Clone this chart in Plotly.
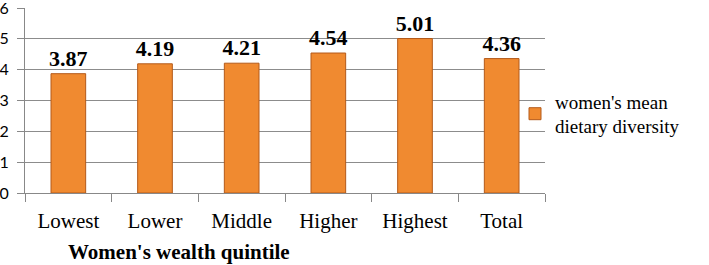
import plotly.graph_objects as go

categories = ["Lowest", "Lower", "Middle", "Higher", "Highest", "Total"]
values = [3.87, 4.19, 4.21, 4.54, 5.01, 4.36]
labels = ["3.87", "4.19", "4.21", "4.54", "5.01", "4.36"]
series_name = "women's mean<br>dietary diversity"
y_ticks = [0, 1, 2, 3, 4, 5, 6]

W, H = 709, 265
ml, mr, mt, mb = 25, 164, 8, 72
pw, ph = W - ml - mr, H - mt - mb

fig = go.Figure()
fig.add_trace(go.Bar(
    x=categories, y=values, name=series_name,
    text=labels, textposition="outside", cliponaxis=False,
    textfont=dict(family="Liberation Serif", size=22, color="black", weight="bold"),
    marker=dict(color="#F08A30", line=dict(color="#B45A1A", width=1)),
    showlegend=True,
))

fig.update_layout(
    width=W, height=H,
    margin=dict(l=ml, r=mr, t=mt, b=mb, autoexpand=False),
    paper_bgcolor="white", plot_bgcolor="white",
    font=dict(family="Liberation Serif, serif", color="black"),
    bargap=0.6,
    uniformtext=dict(minsize=22, mode="show"),
    showlegend=True,
    legend=dict(
        x=(515 - ml) / pw, xanchor="left",
        y=(mt + ph - 114) / ph, yanchor="middle",
        font=dict(family="Liberation Serif, serif", size=19, color="black"),
        bgcolor="rgba(0,0,0,0)", borderwidth=0,
    ),
    xaxis=dict(
        type="category", automargin=False,
        tickson="boundaries",
        ticks="outside", ticklen=8, tickcolor="#888888",
        showline=True, linecolor="#888888", linewidth=1,
        showgrid=False,
        tickfont=dict(family="Liberation Serif", size=21, color="black"),
        ticklabelstandoff=9,
    ),
    yaxis=dict(
        range=[0, 6], tickvals=y_ticks, automargin=False,
        ticks="outside", ticklen=7, tickcolor="#888888",
        showline=True, linecolor="#888888", linewidth=1,
        showgrid=True, gridcolor="#8C8C8C", gridwidth=1,
        zeroline=False,
        tickfont=dict(family="Lato", size=16, color="black"),
        ticklabelstandoff=5,
        ticklabeloverflow="allow",
    ),
    annotations=[dict(
        text="<b>Women's wealth quintile</b>",
        xref="paper", yref="paper",
        x=(179 - ml) / pw, xanchor="center",
        y=(mt + ph - 252) / ph, yanchor="middle",
        showarrow=False,
        font=dict(family="Liberation Serif", size=21, color="black"),
    )],
)

fig.write_html(
    "out.html",
    config={"displayModeBar": False},
    post_script="document.body.style.margin='0';document.body.style.padding='0';",
)
